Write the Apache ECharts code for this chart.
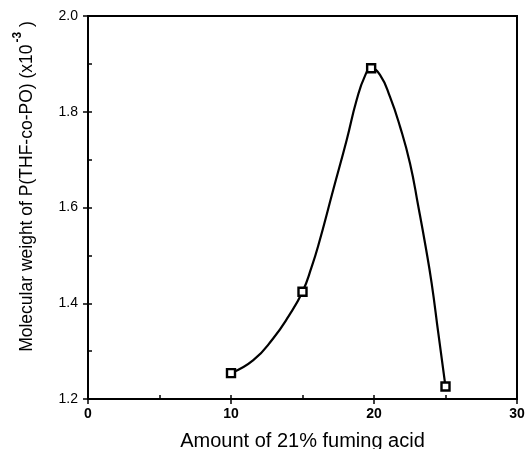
<!DOCTYPE html>
<html>
<head>
<meta charset="utf-8">
<script src="https://cdn.jsdelivr.net/npm/echarts@6/dist/echarts.min.js"></script>
<style>html,body{margin:0;padding:0;background:#fff}#c{width:529px;height:449px}</style>
</head>
<body>
<div id="c"></div>
<script>
// Measured data points (amount of acid, molecular weight x10^-3)
const acidAmount = [10, 15, 19.8, 25];
const molWeight = [1.254, 1.424, 1.891, 1.226];
// Drawn fitted curve
const curveX = [10, 11.56, 12.96, 14.01, 15, 15.64, 16.1, 17.15, 18.09, 18.79, 19.37, 19.8, 20.42, 21.12, 21.82, 22.52, 23.1, 23.6, 24.03, 24.5, 25];
const curveY = [1.254, 1.281, 1.327, 1.372, 1.424, 1.476, 1.52, 1.637, 1.741, 1.825, 1.875, 1.891, 1.877, 1.831, 1.769, 1.692, 1.602, 1.52, 1.442, 1.337, 1.226];
const xTicks = [0, 10, 20, 30];
const yTicks = [1.2, 1.4, 1.6, 1.8, 2.0];

const pts = acidAmount.map((x, i) => [x, molWeight[i]]);
const curve = curveX.map((x, i) => [x, curveY[i]]);
const font = 'Liberation Sans, Arial, sans-serif';

const chart = echarts.init(document.getElementById('c'));
chart.setOption({
  animation: false,
  grid: { left: 88, right: 12, top: 16, bottom: 50, show: true, borderColor: '#000', borderWidth: 2,
    containLabel: false, outerBoundsMode: 'none' },
  xAxis: [{
    type: 'value', min: xTicks[0], max: xTicks[xTicks.length - 1], interval: 10,
    axisLine: { lineStyle: { color: '#000', width: 2 } },
    axisTick: { show: true, length: 5, lineStyle: { color: '#000', width: 1.5 } },
    axisLabel: { color: '#000', fontFamily: font, fontSize: 14, fontWeight: 'bold', margin: 8 },
    splitLine: { show: false },
    name: 'Amount of 21% fuming acid', nameLocation: 'middle', nameGap: 32,
    nameTextStyle: { color: '#000', fontFamily: font, fontSize: 20 }
  }, {
    type: 'value', min: 0, max: 30, interval: 5, position: 'bottom',
    axisLine: { show: false }, axisLabel: { show: false }, splitLine: { show: false },
    axisTick: { show: true, inside: true, length: 4, lineStyle: { color: '#000', width: 1.5 } }
  }],
  yAxis: [{
    type: 'value', min: yTicks[0], max: yTicks[yTicks.length - 1], interval: 0.2,
    axisLine: { lineStyle: { color: '#000', width: 2 } },
    axisTick: { show: true, length: 5, lineStyle: { color: '#000', width: 1.5 } },
    axisLabel: { color: '#000', fontFamily: font, fontSize: 14, margin: 10,
      formatter: v => v.toFixed(1) },
    splitLine: { show: false },
    name: '{a|Molecular weight of P(THF-co-PO) (x10}{s|-3}{a| )}',
    nameLocation: 'middle', nameRotate: 90, nameGap: 52,
    nameTextStyle: {
      color: '#000', fontFamily: font, fontSize: 17, padding: [0, 0, 0, 42],
      rich: {
        a: { fontFamily: font, fontSize: 17.5, color: '#000', lineHeight: 24, verticalAlign: 'bottom' },
        s: { fontFamily: font, fontSize: 12, color: '#000', fontWeight: 'bold', lineHeight: 24, verticalAlign: 'top', padding: [0, 0, 8, 2] }
      }
    }
  }, {
    type: 'value', min: 1.2, max: 2.0, interval: 0.1, position: 'left',
    axisLine: { show: false }, axisLabel: { show: false }, splitLine: { show: false },
    axisTick: { show: true, inside: true, length: 4, lineStyle: { color: '#000', width: 1.5 } }
  }],
  series: [{
    type: 'line', data: curve, smooth: 0.5, showSymbol: false, symbol: 'none',
    lineStyle: { color: '#000', width: 2.2 }, z: 2
  }, {
    type: 'scatter', data: pts, symbol: 'rect', symbolSize: 8,
    itemStyle: { color: '#fff', borderColor: '#000', borderWidth: 2.4, opacity: 1 }, z: 3
  }]
});
</script>
</body>
</html>
